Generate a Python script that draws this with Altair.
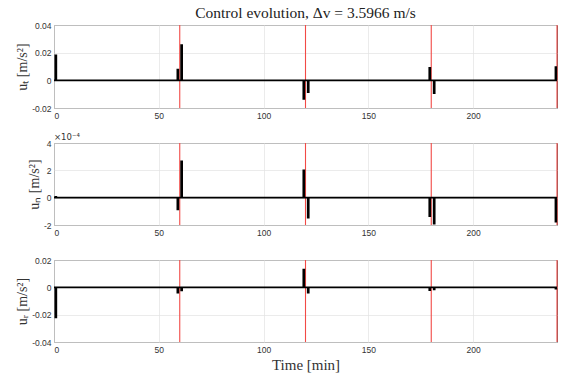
import altair as alt
import pandas as pd

# ---- data ----
burn_times = [0.87, 59.1, 60.9, 119.2, 121.3, 179.3, 181.4, 239.5]   # min
u_t = [0.018, 0.0078, 0.0255, -0.0133, -0.0085, 0.009, -0.0092, 0.0095]   # m/s^2
u_n = [0.05, -0.85, 2.65, 2.0, -1.45, -1.35, -1.9, -1.75]                  # x1e-4 m/s^2
u_r = [-0.022, -0.0038, -0.0022, 0.013, -0.0038, -0.002, -0.0015, -0.001] # m/s^2
burn_half_width = 0.22
t_start, t_end = 0, 240
arc_bounds = [60, 120, 180, 240]
x_ticks = [0, 50, 100, 150, 200]

RED = "#f24a46"


def steps(vals):
    rows = [{"t": t_start, "u": 0.0}]
    for c, v in zip(burn_times, vals):
        a, b = c - burn_half_width, c + burn_half_width
        rows += [{"t": a, "u": 0.0}, {"t": a, "u": v}, {"t": b, "u": v}, {"t": b, "u": 0.0}]
    rows.append({"t": t_end, "u": 0.0})
    return pd.DataFrame(rows)


def panel(vals, domain, yticks, ytitle, h, xtitle=None, extra=None):
    df = steps(vals)
    xs = alt.Scale(domain=[t_start, t_end], nice=False, zero=False)
    xaxis = alt.Axis(values=x_ticks, title=xtitle, labelExpr="'' + datum.value")
    line = alt.Chart(df).mark_line(color="black", strokeWidth=1.8, clip=True, interpolate="linear").encode(
        x=alt.X("t:Q", scale=xs, axis=xaxis),
        y=alt.Y("u:Q", scale=alt.Scale(domain=domain, nice=False, zero=False),
                axis=alt.Axis(values=yticks, title=ytitle, labelExpr="'' + datum.value")),
        order="idx:Q",
    ).transform_window(idx="row_number()")
    rules = alt.Chart(pd.DataFrame({"t": arc_bounds})).mark_rule(color=RED, strokeWidth=1.1).encode(
        x=alt.X("t:Q", scale=xs)
    )
    layers = [rules, line]
    if extra is not None:
        layers.append(extra)
    return alt.layer(*layers).properties(width=503, height=h)


mult = alt.Chart(pd.DataFrame({"a": [0]})).mark_text(
    align="left", baseline="bottom", fontSize=8.5, font="DejaVu Sans", color="#333"
).encode(x=alt.value(0), y=alt.value(-1), text=alt.value("×10⁻⁴"))

p1 = panel(u_t, [-0.02, 0.04], [-0.02, 0, 0.02, 0.04], "uₜ [m/s²]", 83).properties(
    title=alt.TitleParams("Control evolution, Δv = 3.5966 m/s", frame="group", anchor="middle",
                          font="Liberation Serif", fontSize=15.5, fontWeight="normal", color="#222", offset=0)
)
p2 = panel(u_n, [-2, 4], [-2, 0, 2, 4], "uₙ [m/s²]", 82, extra=mult)
p3 = panel(u_r, [-0.04, 0.02], [-0.04, -0.02, 0, 0.02], "uᵣ [m/s²]", 82, xtitle="Time [min]")

chart = alt.vconcat(p1, p2, p3, spacing=35, bounds="flush").properties(
    padding={"left": 15, "top": 5, "right": 2, "bottom": 5}
).configure_view(stroke="#6a6a6a", strokeWidth=1).configure_axis(
    labelFont="Liberation Sans", labelFontSize=8.5, labelColor="#333", labelPadding=3,
    gridColor="#e3e3e3", gridWidth=0.7, domain=False, ticks=False,
    titleFont="Liberation Serif", titleFontSize=14, titleFontWeight="normal", titleColor="#333",
    titlePadding=2,
).configure_axisX(titlePadding=4, titleFontSize=15)

chart.save("out.html", embed_options={"renderer": "svg", "actions": False})
